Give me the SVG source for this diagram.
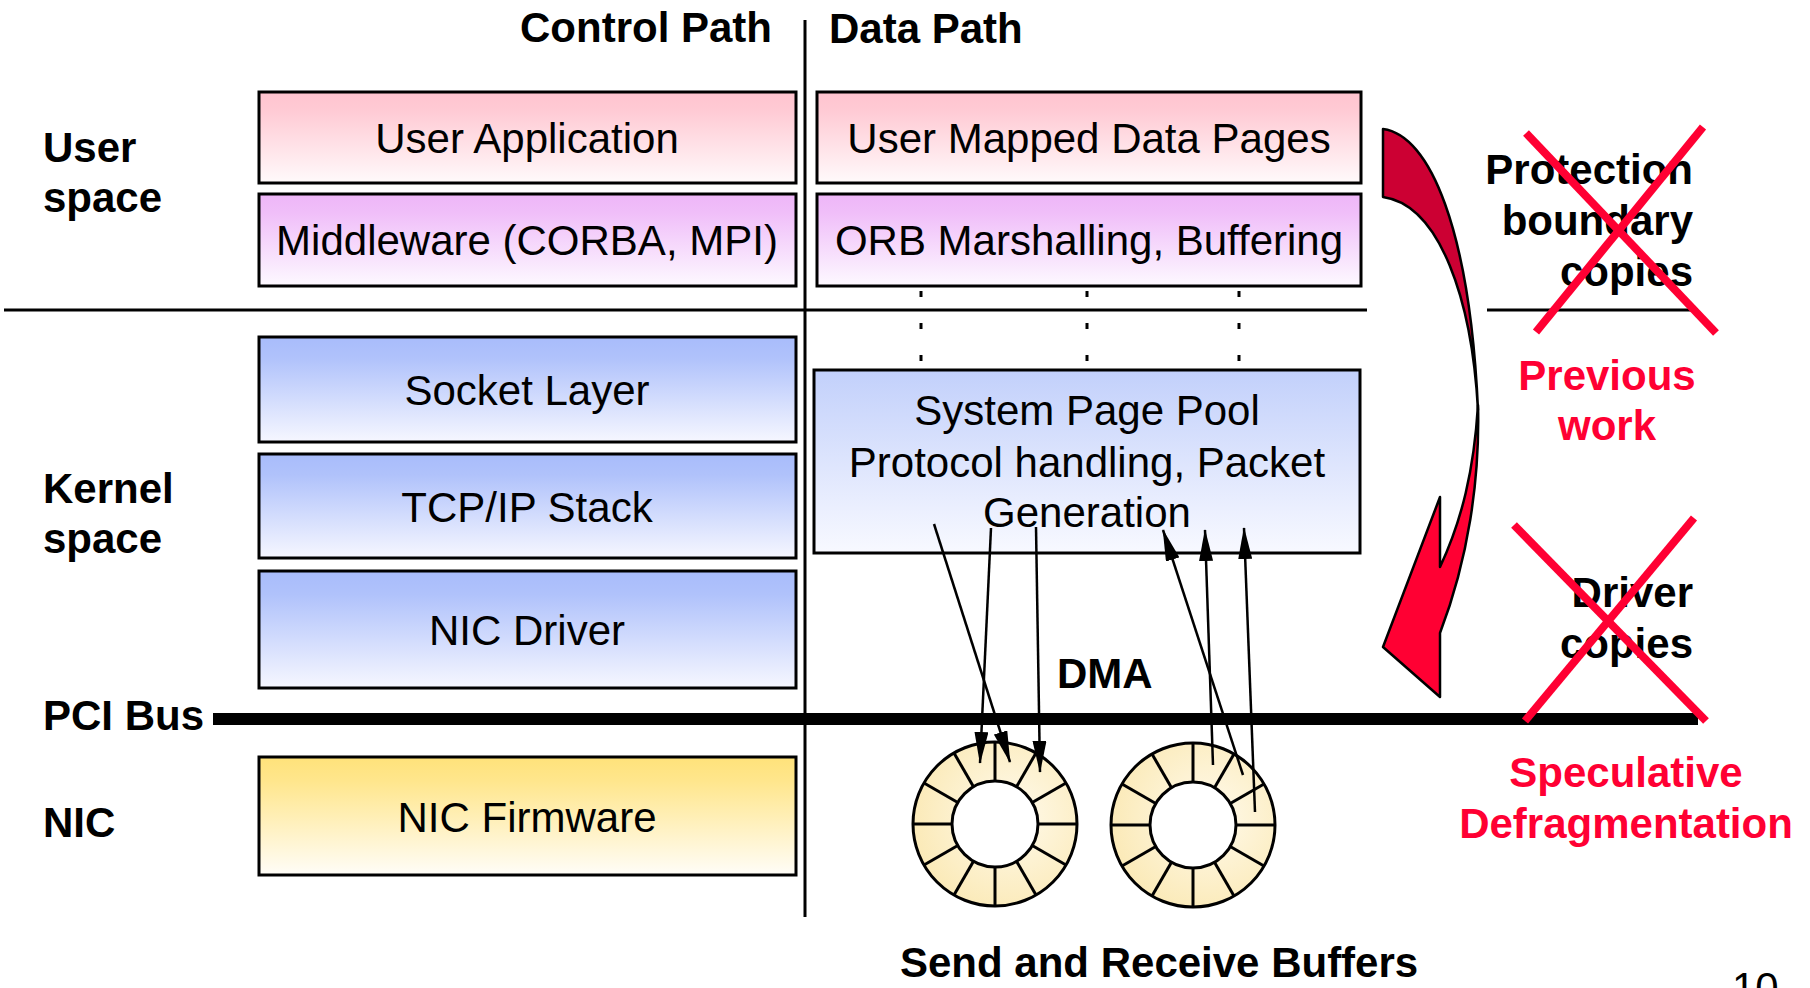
<svg xmlns="http://www.w3.org/2000/svg" width="1810" height="988" viewBox="0 0 1810 988">
  <style>
    .lbl { font-family: "Liberation Sans", Arial, sans-serif; font-size: 42px; font-weight: bold; fill: #000; }
    .red { fill: #ff0033; }
    .box text { font-family: "Liberation Sans", Arial, sans-serif; font-size: 42px; fill: #000; text-anchor: middle; }
    .box rect { stroke: #000; stroke-width: 3; }
    .rule { stroke: #000; stroke-width: 3; fill: none; }
    .cross { stroke: #ff0033; stroke-width: 8; fill: none; }
    .ring circle, .ring line { stroke: #000; stroke-width: 3; }
    .dma { stroke: #000; stroke-width: 2.5; fill: none; marker-end: url(#tip); }
    .dot { fill: #000; }
  </style>
  <defs>
    <linearGradient id="gPink" x1="0" y1="0" x2="0" y2="1">
      <stop offset="0" stop-color="#ffc4cf"/>
      <stop offset="0.2" stop-color="#ffcad4"/>
      <stop offset="1" stop-color="#fffafb"/>
    </linearGradient>
    <linearGradient id="gLav" x1="0" y1="0" x2="0" y2="1">
      <stop offset="0" stop-color="#eeb6f8"/>
      <stop offset="0.2" stop-color="#f0bef9"/>
      <stop offset="1" stop-color="#fdf9ff"/>
    </linearGradient>
    <linearGradient id="gBlue" x1="0" y1="0" x2="0" y2="1">
      <stop offset="0" stop-color="#a8bcfb"/>
      <stop offset="0.2" stop-color="#b0c2fb"/>
      <stop offset="1" stop-color="#f6f7ff"/>
    </linearGradient>
    <linearGradient id="gBlueLight" x1="0" y1="0" x2="0" y2="1">
      <stop offset="0" stop-color="#c2d0fb"/>
      <stop offset="1" stop-color="#f8f9ff"/>
    </linearGradient>
    <linearGradient id="gYellow" x1="0" y1="0" x2="0" y2="1">
      <stop offset="0" stop-color="#ffe27a"/>
      <stop offset="0.2" stop-color="#ffe68c"/>
      <stop offset="1" stop-color="#fffdf8"/>
    </linearGradient>
    <radialGradient id="gRing" cx="0.6" cy="0.45" r="0.6">
      <stop offset="0" stop-color="#fffaec"/>
      <stop offset="1" stop-color="#fbeab8"/>
    </radialGradient>
    <marker id="tip" viewBox="0 0 32 14" markerUnits="userSpaceOnUse" markerWidth="32" markerHeight="14" refX="31" refY="7" orient="auto">
      <path d="M0,0 L32,7 L0,14 Z" fill="#000"/>
    </marker>
  </defs>

  <!-- page background -->
  <rect x="0" y="0" width="1810" height="988" fill="#fff"/>

  <!-- section rules: control/data split, user/kernel boundary -->
  <g id="rules">
    <line class="rule" x1="805" y1="20" x2="805" y2="917" stroke-width="2.5"/>
    <line class="rule" x1="4" y1="310" x2="1367" y2="310"/>
    <line class="rule" x1="1487" y1="310" x2="1698" y2="310"/>
  </g>

  <!-- headings and layer labels -->
  <g id="labels">
    <text class="lbl" x="520" y="42">Control Path</text>
    <text class="lbl" x="829" y="43">Data Path</text>
    <text class="lbl" x="43" y="162">User</text>
    <text class="lbl" x="43" y="212">space</text>
    <text class="lbl" x="43" y="503">Kernel</text>
    <text class="lbl" x="43" y="553">space</text>
    <text class="lbl" x="43" y="730">PCI Bus</text>
    <text class="lbl" x="43" y="837">NIC</text>
    <text class="lbl" x="1057" y="688">DMA</text>
    <text class="lbl" x="900" y="977">Send and Receive Buffers</text>
    <text x="1732" y="1002" font-family="Liberation Sans, Arial, sans-serif" font-size="42">10</text>
  </g>

  <!-- control path stack -->
  <g id="user-application" class="box">
    <rect x="259" y="92" width="537" height="91" fill="url(#gPink)"/>
    <text x="527" y="153">User Application</text>
  </g>
  <g id="middleware" class="box">
    <rect x="259" y="194" width="537" height="92" fill="url(#gLav)"/>
    <text x="527" y="255">Middleware (CORBA, MPI)</text>
  </g>
  <g id="socket-layer" class="box">
    <rect x="259" y="337" width="537" height="105" fill="url(#gBlue)"/>
    <text x="527" y="405">Socket Layer</text>
  </g>
  <g id="tcpip-stack" class="box">
    <rect x="259" y="454" width="537" height="104" fill="url(#gBlue)"/>
    <text x="527" y="522">TCP/IP Stack</text>
  </g>
  <g id="nic-driver" class="box">
    <rect x="259" y="571" width="537" height="117" fill="url(#gBlue)"/>
    <text x="527" y="645">NIC Driver</text>
  </g>
  <g id="nic-firmware" class="box">
    <rect x="259" y="757" width="537" height="118" fill="url(#gYellow)"/>
    <text x="527" y="832">NIC Firmware</text>
  </g>

  <!-- data path stack -->
  <g id="user-mapped-pages" class="box">
    <rect x="817" y="92" width="544" height="91" fill="url(#gPink)"/>
    <text x="1089" y="153">User Mapped Data Pages</text>
  </g>
  <g id="orb-marshalling" class="box">
    <rect x="817" y="194" width="544" height="92" fill="url(#gLav)"/>
    <text x="1089" y="255">ORB Marshalling, Buffering</text>
  </g>
  <g id="system-page-pool" class="box">
    <rect x="814" y="370" width="546" height="183" fill="url(#gBlueLight)"/>
    <text x="1087" y="425">System Page Pool</text>
    <text x="1087" y="477">Protocol handling, Packet</text>
    <text x="1087" y="527">Generation</text>
  </g>

  <!-- vertical ellipsis between ORB and page pool -->
  <g id="ellipsis">
    <rect class="dot" x="919.5" y="291" width="3" height="6"/>
    <rect class="dot" x="1085.5" y="291" width="3" height="6"/>
    <rect class="dot" x="1237.5" y="291" width="3" height="6"/>
    <rect class="dot" x="919.5" y="323" width="3" height="6"/>
    <rect class="dot" x="1085.5" y="323" width="3" height="6"/>
    <rect class="dot" x="1237.5" y="323" width="3" height="6"/>
    <rect class="dot" x="919.5" y="355" width="3" height="6"/>
    <rect class="dot" x="1085.5" y="355" width="3" height="6"/>
    <rect class="dot" x="1237.5" y="355" width="3" height="6"/>
  </g>

  <!-- PCI bus -->
  <g id="pci-bus">
    <line x1="213" y1="719" x2="1698" y2="719" stroke="#000" stroke-width="12"/>
  </g>

  <!-- send ring buffer -->
  <g id="send-ring" class="ring" transform="translate(995,824)">
    <circle r="82" fill="url(#gRing)"/>
    <circle r="43" fill="#fff"/>
    <g>
      <line x1="0" y1="-43" x2="0" y2="-82"/>
      <line x1="21.5" y1="-37.2" x2="41" y2="-71"/>
      <line x1="37.2" y1="-21.5" x2="71" y2="-41"/>
      <line x1="43" y1="0" x2="82" y2="0"/>
      <line x1="37.2" y1="21.5" x2="71" y2="41"/>
      <line x1="21.5" y1="37.2" x2="41" y2="71"/>
      <line x1="0" y1="43" x2="0" y2="82"/>
      <line x1="-21.5" y1="37.2" x2="-41" y2="71"/>
      <line x1="-37.2" y1="21.5" x2="-71" y2="41"/>
      <line x1="-43" y1="0" x2="-82" y2="0"/>
      <line x1="-37.2" y1="-21.5" x2="-71" y2="-41"/>
      <line x1="-21.5" y1="-37.2" x2="-41" y2="-71"/>
    </g>
  </g>

  <!-- receive ring buffer -->
  <g id="receive-ring" class="ring" transform="translate(1193,825)">
    <circle r="82" fill="url(#gRing)"/>
    <circle r="43" fill="#fff"/>
    <g>
      <line x1="0" y1="-43" x2="0" y2="-82"/>
      <line x1="21.5" y1="-37.2" x2="41" y2="-71"/>
      <line x1="37.2" y1="-21.5" x2="71" y2="-41"/>
      <line x1="43" y1="0" x2="82" y2="0"/>
      <line x1="37.2" y1="21.5" x2="71" y2="41"/>
      <line x1="21.5" y1="37.2" x2="41" y2="71"/>
      <line x1="0" y1="43" x2="0" y2="82"/>
      <line x1="-21.5" y1="37.2" x2="-41" y2="71"/>
      <line x1="-37.2" y1="21.5" x2="-71" y2="41"/>
      <line x1="-43" y1="0" x2="-82" y2="0"/>
      <line x1="-37.2" y1="-21.5" x2="-71" y2="-41"/>
      <line x1="-21.5" y1="-37.2" x2="-41" y2="-71"/>
    </g>
  </g>

  <!-- DMA transfers between page pool and ring buffers -->
  <g id="connectors">
    <line class="dma" x1="991" y1="528" x2="980" y2="763"/>
    <line class="dma" x1="934" y1="524" x2="1010" y2="762"/>
    <line class="dma" x1="1036" y1="527" x2="1040" y2="772"/>
    <line class="dma" x1="1243" y1="775" x2="1163" y2="530"/>
    <line class="dma" x1="1213" y1="765" x2="1205" y2="530"/>
    <line class="dma" x1="1255" y1="812" x2="1244" y2="528"/>
  </g>

  <!-- curved copy arrow: back sweep and front head -->
  <g id="copy-arrow" stroke="#000" stroke-width="2.5" stroke-linejoin="round">
    <path d="M1383,129 C1430,135 1470,230 1478,410 C1472,300 1440,205 1383,197 Z" fill="#cc0033"/>
    <path d="M1478,405 C1480,480 1468,560 1440,633 L1440,697 L1383,647 L1440,497 L1440,567 C1462,520 1474,470 1478,405 Z" fill="#ff0033"/>
  </g>

  <!-- overhead annotations -->
  <g id="protection-copies">
    <text class="lbl" x="1693" y="184" text-anchor="end">Protection</text>
    <text class="lbl" x="1693" y="235" text-anchor="end">boundary</text>
    <text class="lbl" x="1693" y="286" text-anchor="end">copies</text>
    <line class="cross" x1="1526" y1="133" x2="1716" y2="333"/>
    <line class="cross" x1="1703" y1="127" x2="1536" y2="332"/>
  </g>
  <g id="previous-work">
    <text class="lbl red" x="1607" y="390" text-anchor="middle">Previous</text>
    <text class="lbl red" x="1607" y="440" text-anchor="middle">work</text>
  </g>
  <g id="driver-copies">
    <text class="lbl" x="1693" y="607" text-anchor="end">Driver</text>
    <text class="lbl" x="1693" y="658" text-anchor="end">copies</text>
    <line class="cross" x1="1514" y1="525" x2="1706" y2="721"/>
    <line class="cross" x1="1694" y1="518" x2="1525" y2="721"/>
  </g>
  <g id="speculative-defrag">
    <text class="lbl red" x="1626" y="787" text-anchor="middle">Speculative</text>
    <text class="lbl red" x="1626" y="838" text-anchor="middle">Defragmentation</text>
  </g>
</svg>
